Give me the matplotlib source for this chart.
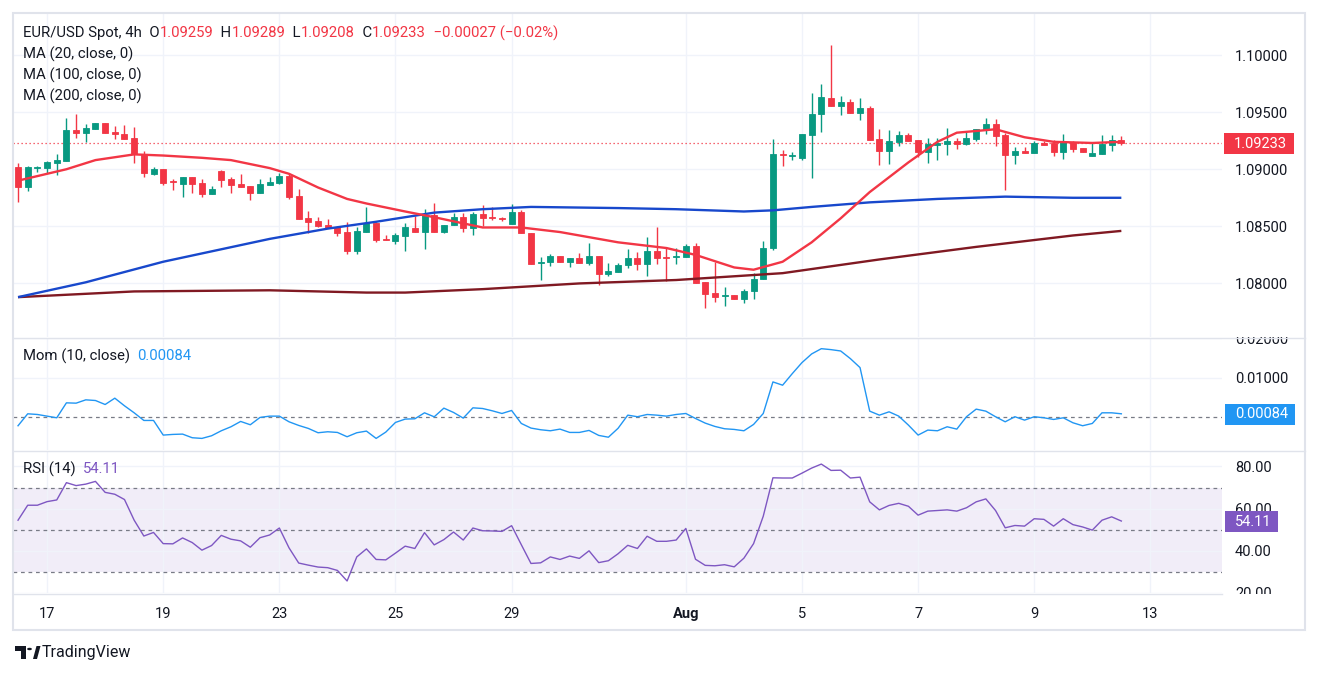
import matplotlib
matplotlib.use("Agg")
import matplotlib.pyplot as plt
from matplotlib.patches import Rectangle, Circle, Polygon
from matplotlib.lines import Line2D

# ---------------------------------------------------------------------------
# Data (4h bars, index 0 = Jul 16 12:00)
# ---------------------------------------------------------------------------

opens = [
    1.09019, 1.08844, 1.09010, 1.09010, 1.09054, 1.09072, 1.09343, 1.09317, 1.09352, 1.09405,
    1.09326, 1.09308, 1.09273, 1.09133, 1.08958, 1.09002, 1.08897, 1.08870, 1.08932, 1.08879,
    1.08783, 1.08984, 1.08914, 1.08870, 1.08853, 1.08792, 1.08862, 1.08879, 1.08940, 1.08765,
    1.08573, 1.08546, 1.08511, 1.08494, 1.08450, 1.08284, 1.08450, 1.08529, 1.08389, 1.08371,
    1.08415, 1.08485, 1.08450, 1.08599, 1.08450, 1.08511, 1.08581, 1.08485, 1.08608, 1.08581,
    1.08573, 1.08520, 1.08625, 1.08441, 1.08179, 1.08187, 1.08240, 1.08187, 1.08222, 1.08179,
    1.08240, 1.08082, 1.08100, 1.08161, 1.08222, 1.08170, 1.08284, 1.08231, 1.08231, 1.08231,
    1.08327, 1.08012, 1.07916, 1.07890, 1.07898, 1.07863, 1.07933, 1.08038, 1.08310, 1.09133,
    1.09116, 1.09098, 1.09299, 1.09483, 1.09623, 1.09553, 1.09588, 1.09492, 1.09536, 1.09264,
    1.09159, 1.09238, 1.09299, 1.09256, 1.09151, 1.09212, 1.09221, 1.09247, 1.09221, 1.09264,
    1.09352, 1.09396, 1.09299, 1.09124, 1.09159, 1.09142, 1.09229, 1.09229, 1.09151, 1.09238,
    1.09186, 1.09116, 1.09133, 1.09212, 1.09259,
]
highs = [
    1.09054, 1.09028, 1.09028, 1.09072, 1.09133, 1.09448, 1.09483, 1.09396, 1.09405, 1.09405,
    1.09378, 1.09387, 1.09369, 1.09159, 1.09019, 1.09002, 1.08914, 1.08932, 1.08932, 1.08914,
    1.08853, 1.08993, 1.08932, 1.08958, 1.08853, 1.08914, 1.08932, 1.08967, 1.08958, 1.08827,
    1.08634, 1.08581, 1.08564, 1.08503, 1.08538, 1.08494, 1.08669, 1.08538, 1.08424, 1.08441,
    1.08529, 1.08590, 1.08651, 1.08704, 1.08511, 1.08616, 1.08616, 1.08625, 1.08686, 1.08669,
    1.08581, 1.08695, 1.08643, 1.08441, 1.08231, 1.08257, 1.08240, 1.08222, 1.08266, 1.08354,
    1.08240, 1.08179, 1.08179, 1.08301, 1.08275, 1.08406, 1.08494, 1.08319, 1.08310, 1.08345,
    1.08354, 1.08012, 1.08187, 1.07968, 1.07898, 1.07951, 1.08091, 1.08371, 1.09264, 1.09168,
    1.09151, 1.09308, 1.09667, 1.09746, 1.10088, 1.09641, 1.09615, 1.09623, 1.09553, 1.09352,
    1.09343, 1.09334, 1.09317, 1.09256, 1.09273, 1.09273, 1.09361, 1.09273, 1.09326, 1.09352,
    1.09448, 1.09440, 1.09317, 1.09194, 1.09194, 1.09247, 1.09247, 1.09256, 1.09308, 1.09247,
    1.09186, 1.09229, 1.09299, 1.09299, 1.09289,
]
lows = [
    1.08713, 1.08809, 1.08975, 1.08967, 1.08949, 1.09072, 1.09273, 1.09238, 1.09352, 1.09317,
    1.09264, 1.09264, 1.09054, 1.08932, 1.08949, 1.08862, 1.08818, 1.08757, 1.08792, 1.08757,
    1.08783, 1.08844, 1.08792, 1.08844, 1.08730, 1.08792, 1.08862, 1.08870, 1.08739, 1.08564,
    1.08441, 1.08494, 1.08485, 1.08415, 1.08257, 1.08257, 1.08450, 1.08362, 1.08380, 1.08345,
    1.08284, 1.08450, 1.08301, 1.08450, 1.08441, 1.08511, 1.08450, 1.08424, 1.08503, 1.08555,
    1.08546, 1.08520, 1.08441, 1.08170, 1.08030, 1.08152, 1.08187, 1.08144, 1.08179, 1.08161,
    1.07986, 1.08065, 1.08100, 1.08135, 1.08117, 1.08065, 1.08170, 1.08021, 1.08170, 1.08231,
    1.08003, 1.07784, 1.07837, 1.07802, 1.07863, 1.07828, 1.07863, 1.08038, 1.08292, 1.09028,
    1.09081, 1.09081, 1.08923, 1.09326, 1.09553, 1.09475, 1.09492, 1.09431, 1.09256, 1.09037,
    1.09045, 1.09203, 1.09247, 1.09107, 1.09054, 1.09081, 1.09124, 1.09177, 1.09212, 1.09247,
    1.09308, 1.09203, 1.08818, 1.09045, 1.09142, 1.09142, 1.09212, 1.09116, 1.09089, 1.09151,
    1.09151, 1.09116, 1.09133, 1.09159, 1.09208,
]
closes = [
    1.08844, 1.09019, 1.09019, 1.09063, 1.09081, 1.09343, 1.09317, 1.09361, 1.09405, 1.09317,
    1.09308, 1.09264, 1.09133, 1.08967, 1.09002, 1.08879, 1.08888, 1.08932, 1.08870, 1.08783,
    1.08827, 1.08905, 1.08862, 1.08844, 1.08792, 1.08870, 1.08888, 1.08940, 1.08757, 1.08564,
    1.08538, 1.08503, 1.08485, 1.08441, 1.08284, 1.08459, 1.08529, 1.08380, 1.08380, 1.08424,
    1.08494, 1.08450, 1.08599, 1.08450, 1.08511, 1.08581, 1.08485, 1.08608, 1.08573, 1.08573,
    1.08564, 1.08625, 1.08441, 1.08170, 1.08187, 1.08240, 1.08187, 1.08222, 1.08179, 1.08240,
    1.08082, 1.08108, 1.08161, 1.08222, 1.08170, 1.08284, 1.08222, 1.08222, 1.08240, 1.08327,
    1.08003, 1.07907, 1.07881, 1.07898, 1.07863, 1.07933, 1.08038, 1.08310, 1.09133, 1.09124,
    1.09124, 1.09308, 1.09483, 1.09632, 1.09553, 1.09588, 1.09492, 1.09536, 1.09256, 1.09159,
    1.09247, 1.09299, 1.09247, 1.09151, 1.09221, 1.09229, 1.09247, 1.09221, 1.09273, 1.09352,
    1.09396, 1.09291, 1.09124, 1.09159, 1.09142, 1.09229, 1.09212, 1.09151, 1.09238, 1.09177,
    1.09151, 1.09142, 1.09221, 1.09256, 1.09233,
]

# moving averages, read at sample bars
ma20_idx = [0, 2, 5, 8, 12, 15, 19, 22, 26, 28, 31, 34, 36, 40, 43, 48, 52, 56, 62, 67,
            70, 74, 76, 79, 82, 85, 88, 92, 95, 97, 101, 104, 107, 111, 114]
ma20_val = [1.0890, 1.0894, 1.0900, 1.0908, 1.0913, 1.0912, 1.0910, 1.0908, 1.0901, 1.0896,
            1.0884, 1.0874, 1.0870, 1.0863, 1.0858, 1.0849, 1.0849, 1.0845, 1.0836, 1.0831,
            1.0825, 1.0814, 1.0812, 1.0819, 1.0836, 1.0857, 1.0880, 1.0906, 1.0924, 1.0932,
            1.0935, 1.0928, 1.0924, 1.0923, 1.0924]
ma100_idx = [0, 7, 15, 26, 32, 37, 43, 48, 53, 62, 68, 75, 78, 82, 88, 95, 102, 109, 114]
ma100_val = [1.0788, 1.0801, 1.0819, 1.0839, 1.0848, 1.0854, 1.0862, 1.0865, 1.0867, 1.0866,
             1.0865, 1.0863, 1.0864, 1.0867, 1.0871, 1.0874, 1.0876, 1.0875, 1.0875]
ma200_idx = [0, 12, 26, 36, 40, 48, 58, 68, 79, 89, 99, 109, 114]
ma200_val = [1.0788, 1.0793, 1.0794, 1.0792, 1.0792, 1.0795, 1.0800, 1.0803, 1.0809, 1.0821,
             1.0832, 1.0842, 1.0846]

momentum = [
    -0.00218, 0.00084, 0.00067, 0.00025, -0.00017, 0.00361, 0.00353, 0.00437, 0.00420, 0.00319,
    0.00479, 0.00286, 0.00109, -0.00084, -0.00084, -0.00454, -0.00437, -0.00429, -0.00521, -0.00538,
    -0.00471, -0.00345, -0.00244, -0.00109, -0.00193, -0.00008, 0.00025, 0.00025, -0.00118, -0.00210,
    -0.00286, -0.00395, -0.00370, -0.00387, -0.00496, -0.00395, -0.00353, -0.00538, -0.00378, -0.00134,
    -0.00050, -0.00042, 0.00109, 0.00008, 0.00227, 0.00118, -0.00025, 0.00235, 0.00218, 0.00160,
    0.00092, 0.00168, -0.00160, -0.00277, -0.00319, -0.00345, -0.00303, -0.00387, -0.00387, -0.00336,
    -0.00462, -0.00508, -0.00282, 0.00050, 0.00010, 0.00067, 0.00050, 0.00025, 0.00067, 0.00092,
    -0.00034, -0.00151, -0.00235, -0.00294, -0.00311, -0.00345, -0.00185, 0.00092, 0.00890, 0.00807,
    0.01100, 0.01378, 0.01597, 0.01730, 0.01706, 0.01672, 0.01479, 0.01252, 0.00151, 0.00050,
    0.00134, 0.00025, -0.00202, -0.00454, -0.00328, -0.00345, -0.00244, -0.00303, 0.00010, 0.00202,
    0.00151, 0.00010, -0.00118, 0.00010, -0.00076, 0.00010, -0.00017, -0.00059, -0.00017, -0.00143,
    -0.00218, -0.00160, 0.00109, 0.00109, 0.00084,
]
rsi = [
    54.5, 61.6, 61.6, 63.3, 64.1, 72.3, 70.9, 71.6, 72.9, 67.7,
    66.8, 64.3, 54.5, 47.0, 48.7, 43.4, 43.3, 46.1, 43.9, 40.3,
    42.5, 47.3, 45.5, 44.7, 41.7, 46.2, 47.5, 50.8, 41.4, 34.2,
    33.2, 32.3, 32.0, 30.7, 25.7, 37.1, 40.9, 35.9, 35.7, 38.9,
    42.2, 41.1, 48.6, 42.8, 45.3, 48.9, 45.1, 50.8, 49.5, 49.4,
    49.2, 51.9, 42.9, 34.0, 34.3, 37.1, 35.9, 37.5, 36.4, 40.0,
    34.4, 35.3, 38.6, 42.6, 41.1, 46.9, 44.5, 44.5, 45.1, 50.6,
    36.0, 33.1, 32.9, 33.4, 32.4, 36.5, 43.4, 56.4, 74.6, 74.5,
    74.5, 76.8, 79.2, 81.1, 78.1, 78.2, 74.5, 74.9, 63.2, 59.4,
    61.5, 62.5, 61.1, 56.9, 58.8, 59.1, 59.4, 58.8, 60.4, 63.2,
    64.6, 59.1, 50.9, 52.0, 51.7, 55.2, 54.9, 51.7, 55.2, 52.4,
    51.3, 49.8, 54.5, 56.1, 54.11,
]

date_pos = [3, 15, 27, 39, 51, 69, 81, 93, 105, 117]
date_labels = ["17", "19", "23", "25", "29", "Aug", "5", "7", "9", "13"]
price_ticks = [1.080, 1.085, 1.090, 1.095, 1.100]
mom_ticks = [0.01, 0.02]
rsi_ticks = [20, 40, 60, 80]

last_open, last_high, last_low, last_close = 1.09259, 1.09289, 1.09208, 1.09233
last_change, last_change_pct = -0.00027, -0.02
last_mom = 0.00084
last_rsi = 54.11

# ---------------------------------------------------------------------------
# Style
# ---------------------------------------------------------------------------

W, H = 1319, 674
FONT = ["Roboto", "DejaVu Sans"]
plt.rcParams["font.family"] = FONT

UP = "#089981"
DOWN = "#f23645"
TEXT = "#131722"
GRID = "#f0f3fa"
BORDER = "#e0e3eb"
DASH = "#787b86"
MOM_C = "#2196f3"
RSI_C = "#7e57c2"
MA20_C = "#f23645"
MA100_C = "#1848cc"
MA200_C = "#801922"

X_LEFT, X_RIGHT = -0.52, 124.4
PLOT_L, PLOT_R = 13, 1222


def fx(px):
    return px / W


def fy(py):
    return 1 - py / H


fig = plt.figure(figsize=(W / 100, H / 100), dpi=100)
fig.patch.set_facecolor("white")


def panel(top, bottom, z):
    ax = fig.add_axes([fx(PLOT_L), fy(bottom), fx(PLOT_R) - fx(PLOT_L), fy(top) - fy(bottom)],
                      zorder=z)
    for s in ax.spines.values():
        s.set_visible(False)
    ax.set_xlim(X_LEFT, X_RIGHT)
    ax.set_xticks(date_pos)
    ax.grid(True, color=GRID, lw=1)
    ax.set_axisbelow(True)
    ax.yaxis.tick_right()
    ax.tick_params(axis="y", length=0, labelsize=10.5, labelcolor=TEXT, pad=9.4)
    ax.tick_params(axis="x", length=0, labelbottom=False)
    return ax


ax = panel(13, 337, 3)
ax_m = panel(338, 450, 1)
ax_r = panel(451, 593, 1)

# --- main panel --------------------------------------------------------------
ax.set_ylim(1.07531, 1.10368)
ax.set_yticks(price_ticks)
ax.set_yticklabels([f"{v:.5f}" for v in price_ticks])

xs = list(range(len(closes)))
cols = [UP if c >= o else DOWN for o, c in zip(opens, closes)]
ax.vlines(xs, lows, highs, colors=cols, lw=1, zorder=2)
bottoms = [min(o, c) for o, c in zip(opens, closes)]
heights = [max(abs(c - o), 0.00002) for o, c in zip(opens, closes)]
ax.bar(xs, heights, bottom=bottoms, width=0.62, color=cols, edgecolor=cols, lw=0.6, zorder=3)

ax.plot(ma200_idx, ma200_val, color=MA200_C, lw=1.7, zorder=4, solid_capstyle="butt")
ax.plot(ma100_idx, ma100_val, color=MA100_C, lw=1.7, zorder=4, solid_capstyle="butt")
ax.plot(ma20_idx, ma20_val, color=MA20_C, lw=1.7, zorder=4, solid_capstyle="butt")
ax.axhline(last_close, color=DOWN, lw=0.9, ls=(0, (1, 2.2)), zorder=1.5)

# --- momentum panel ------------------------------------------------------------
ax_m.set_ylim(-0.00831, 0.0199)
ax_m.set_yticks(mom_ticks)
ax_m.set_yticklabels([f"{v:.5f}" for v in mom_ticks])
ax_m.axhline(0, color=DASH, lw=0.9, ls=(0, (3, 3)), zorder=1)
ax_m.plot(xs, momentum, color=MOM_C, lw=1.0, zorder=3)

# --- RSI panel -----------------------------------------------------------------
ax_r.set_ylim(20.5, 87.3)
ax_r.set_yticks(rsi_ticks)
ax_r.set_yticklabels([f"{v:.2f}" for v in rsi_ticks])
ax_r.axhspan(30, 70, color=RSI_C, alpha=0.1, lw=0, zorder=0.5)
for lvl in (30, 50, 70):
    ax_r.axhline(lvl, color=DASH, lw=0.9, ls=(0, (3, 3)), zorder=1)
ax_r.plot(xs, rsi, color=RSI_C, lw=1.0, zorder=3)
ax_r.tick_params(axis="x", labelbottom=True, labelsize=10.5, labelcolor=TEXT, pad=10)
ax_r.set_xticklabels(date_labels)
for t in ax_r.get_xticklabels():
    if t.get_text() == "Aug":
        t.set_fontweight("bold")

# --- cover the clipped parts of the right scale ----------------------------------
fig.patches.append(Rectangle((fx(PLOT_R), fy(337)), fx(1304) - fx(PLOT_R), fy(14) - fy(337),
                             transform=fig.transFigure, fc="white", ec="none", zorder=2))
fig.patches.append(Rectangle((fx(PLOT_R), fy(629)), fx(1304) - fx(PLOT_R), fy(594) - fy(629),
                             transform=fig.transFigure, fc="white", ec="none", zorder=2))

# separators and border
for yy, x2 in ((337.5, 1305), (450.5, 1305), (593.5, PLOT_R)):
    fig.lines.append(Line2D([fx(13), fx(x2)], [fy(yy), fy(yy)], transform=fig.transFigure,
                            color=BORDER, lw=1, zorder=6))
fig.patches.append(Rectangle((fx(13), fy(630)), fx(1305) - fx(13), fy(13) - fy(630),
                             transform=fig.transFigure, fc="none", ec=BORDER, lw=1.5, zorder=6))


# value boxes on the right scale
def value_box(x0, x1, y0, y1, txt, color):
    fig.patches.append(Rectangle((fx(x0), fy(y1)), fx(x1) - fx(x0), fy(y0) - fy(y1),
                                 transform=fig.transFigure, fc=color, ec="none", zorder=7))
    fig.text(fx(x0 + 10), fy((y0 + y1) / 2), txt, color="white", fontsize=10.5,
             ha="left", va="center", zorder=8)


value_box(1224, 1294, 133, 154, f"{last_close:.5f}", DOWN)
value_box(1225, 1295, 404, 425, f"{last_mom:.5f}", MOM_C)
value_box(1225, 1278, 511, 532, f"{last_rsi:.2f}", RSI_C)

# --- legends ---------------------------------------------------------------------
renderer = fig.canvas.get_renderer()


def text_row(x_px, y_px, parts, size=10.7):
    x = x_px
    for s, c in parts:
        t = fig.text(fx(x), fy(y_px), s, color=c, fontsize=size, ha="left", va="center", zorder=8)
        x += t.get_window_extent(renderer).width


chg_txt = f"  {last_change:.5f} ({last_change_pct:.2f}%)".replace("-", "\u2212")
text_row(23, 33, [
    ("EUR/USD Spot, 4h  O", TEXT), (f"{last_open:.5f}", DOWN),
    ("  H", TEXT), (f"{last_high:.5f}", DOWN),
    ("  L", TEXT), (f"{last_low:.5f}", DOWN),
    ("  C", TEXT), (f"{last_close:.5f}", DOWN),
    (chg_txt, DOWN),
])
text_row(23, 54, [("MA (20, close, 0)", TEXT)])
text_row(23, 75, [("MA (100, close, 0)", TEXT)])
text_row(23, 96, [("MA (200, close, 0)", TEXT)])
text_row(23, 356, [("Mom (10, close)  ", TEXT), (f"{last_mom:.5f}", MOM_C)])
text_row(23, 469, [("RSI (14)  ", TEXT), (f"{last_rsi:.2f}", RSI_C)])

# --- TradingView logo ---------------------------------------------------------------
logo = [
    Rectangle((fx(15), fy(651)), fx(26) - fx(15), fy(646) - fy(651)),
    Rectangle((fx(21), fy(659)), fx(26) - fx(21), fy(646) - fy(659)),
    Circle((fx(29.5), fy(649)), 2.4 / W),
    Polygon([(fx(33), fy(659)), (fx(36.5), fy(646)), (fx(40.5), fy(646)), (fx(37), fy(659))]),
]
for p in logo:
    p.set_transform(fig.transFigure)
    p.set_facecolor(TEXT)
    p.set_edgecolor("none")
    fig.patches.append(p)
fig.text(fx(42), fy(652), "TradingView", color=TEXT, fontsize=11.5, ha="left", va="center")

fig.savefig("out.png", dpi=100, facecolor="white")
